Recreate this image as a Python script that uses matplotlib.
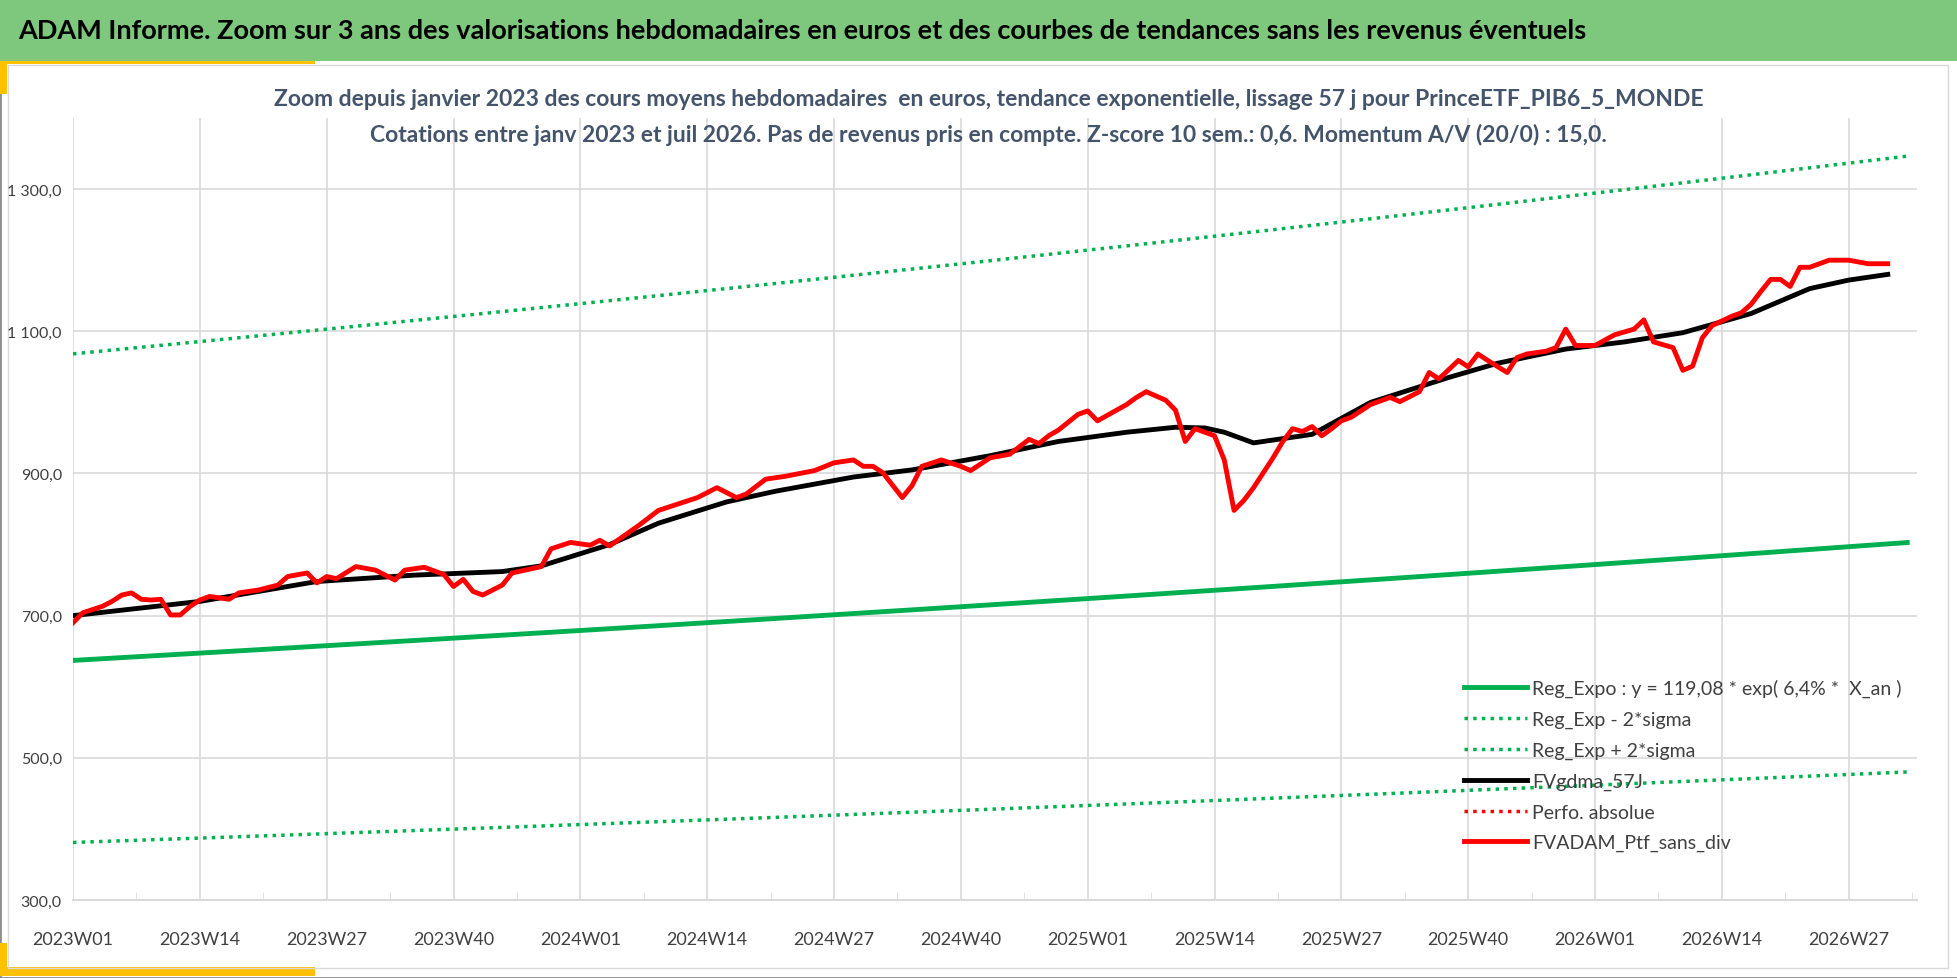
import numpy as np
import matplotlib.pyplot as plt
from matplotlib.patches import Rectangle
from matplotlib.ticker import FuncFormatter, MultipleLocator

plt.rcParams['font.family'] = ['Lato', 'DejaVu Sans']


def generar_zoom_valorisations():
    """Dibuja el zoom de 3 años con las curvas de tendencia de la cartera"""
    print("Generando gráfica de valorizaciones semanales...")

    # Valores semanales leídos (índice de semana desde 2023W01 : valor en euros)
    semanas_ptf = [0, 1, 3, 4, 5, 6, 7, 8, 9, 10, 11, 12, 13, 14, 15, 16, 17, 18, 19, 21, 22, 24, 25, 26, 27,
                   29, 31, 33, 34, 36, 38, 39, 40, 41, 42, 44, 45, 48, 49, 51, 53, 54, 55, 58, 60, 64, 66, 67,
                   68, 69, 71, 73, 76, 78, 80, 81, 82, 83, 85, 86, 87, 89, 91, 92, 94, 96, 98, 99, 100, 101,
                   103, 104, 105, 108, 109, 110, 112, 113, 114, 115, 117, 118, 119, 120, 121, 122, 123, 124,
                   125, 126, 127, 128, 129, 130, 131, 133, 135, 136, 138, 139, 140, 142, 143, 144, 145, 147,
                   148, 149, 151, 152, 153, 154, 156, 158, 160, 161, 162, 164, 165, 166, 167, 168, 170, 171,
                   172, 173, 174, 175, 176, 177, 178, 180, 182, 184, 186]
    valores_ptf = [690, 704, 713, 720, 729, 732, 723, 722, 723, 701, 701, 713, 722, 727, 725, 723, 732, 734, 736,
                   743, 755, 760, 746, 755, 752, 769, 764, 750, 764, 768, 758, 741, 751, 734, 729, 743, 760, 769,
                   794, 803, 799, 806, 798, 827, 848, 866, 880, 873, 866, 871, 892, 896, 904, 915, 919, 910, 910,
                   901, 866, 883, 910, 919, 910, 904, 922, 927, 948, 942, 953, 961, 983, 988, 974, 997, 1007,
                   1015, 1003, 989, 945, 963, 953, 919, 848, 862, 880, 901, 922, 945, 963, 959, 966, 953, 963,
                   974, 979, 997, 1007, 1001, 1015, 1042, 1033, 1059, 1050, 1068, 1059, 1042, 1063, 1068, 1072,
                   1077, 1103, 1080, 1080, 1095, 1103, 1116, 1085, 1077, 1045, 1051, 1091, 1108, 1121, 1126,
                   1138, 1156, 1173, 1173, 1163, 1190, 1190, 1200, 1200, 1195, 1195]

    semanas_mm = [0, 13, 25, 35, 44, 48, 55, 60, 67, 72, 80, 86, 94, 101, 108, 113, 116, 118, 121, 127, 133,
                  141, 146, 153, 159, 165, 172, 178, 182, 186]
    valores_mm = [700, 720, 748, 757, 762, 770, 800, 830, 860, 875, 895, 905, 925, 945, 958, 965, 964, 958,
                  943, 955, 1000, 1035, 1055, 1075, 1085, 1098, 1125, 1160, 1172, 1180]

    # Regresión exponencial y bandas de +/- 2 sigma
    semanas = np.arange(0, 189)
    reg_expo = 637 * np.exp(0.064 * semanas / 52)
    banda_sup = reg_expo * 1.677
    banda_inf = reg_expo * 0.598

    etiquetas = ['2023W01', '2023W14', '2023W27', '2023W40', '2024W01', '2024W14', '2024W27', '2024W40',
                 '2025W01', '2025W14', '2025W27', '2025W40', '2026W01', '2026W14', '2026W27']

    fig = plt.figure(figsize=(19.58, 9.79), dpi=100)

    # Marco, banda verde del título y detalles amarillos (detrás de los ejes)
    fig.patches.append(Rectangle((0, 0), 1, 1, transform=fig.transFigure, facecolor='white',
                                 edgecolor='#8C8C8C', lw=2, zorder=-3))
    fig.patches.append(Rectangle((0, 1 - 62 / 979), 1, 62 / 979, transform=fig.transFigure,
                                 facecolor='#7DC87D', edgecolor='none', zorder=-2))
    fig.patches.append(Rectangle((0, 1 - 65 / 979), 315 / 1958, 3 / 979, transform=fig.transFigure,
                                 facecolor='#FFC000', edgecolor='none', zorder=-2))
    fig.patches.append(Rectangle((0, 1 - 95 / 979), 7 / 1958, 33 / 979, transform=fig.transFigure,
                                 facecolor='#FFC000', edgecolor='none', zorder=-2))
    fig.patches.append(Rectangle((0, 2 / 979), 315 / 1958, 9 / 979, transform=fig.transFigure,
                                 facecolor='#FFC000', edgecolor='none', zorder=-2))
    fig.patches.append(Rectangle((0, 2 / 979), 7 / 1958, 33 / 979, transform=fig.transFigure,
                                 facecolor='#FFC000', edgecolor='none', zorder=-2))
    fig.patches.append(Rectangle((8 / 1958, 10 / 979), 1940 / 1958, 903 / 979, transform=fig.transFigure,
                                 facecolor='none', edgecolor='#D9D9D9', lw=1, zorder=-1))

    fig.text(18 / 1958, 1 - 31 / 979, "ADAM Informe. Zoom sur 3 ans des valorisations hebdomadaires en euros "
             "et des courbes de tendances sans les revenus éventuels", fontsize=19.5, fontweight='bold',
             va='center', ha='left', color='black')
    fig.text(0.505, 1 - 100 / 979, "Zoom depuis janvier 2023 des cours moyens hebdomadaires  en euros, tendance "
             "exponentielle, lissage 57 j pour PrinceETF_PIB6_5_MONDE", fontsize=16.5, fontweight='bold',
             ha='center', va='center', color='#44546A')
    fig.text(0.505, 1 - 135 / 979, "Cotations entre janv 2023 et juil 2026. Pas de revenus pris en compte. "
             "Z-score 10 sem.: 0,6. Momentum A/V (20/0) : 15,0.", fontsize=16.5, fontweight='bold',
             ha='center', va='center', color='#44546A')

    ax = fig.add_axes([73 / 1958, 78 / 979, 1844 / 1958, 782 / 979])
    ax.patch.set_alpha(0)
    ax.plot(semanas, reg_expo, color='#00B050', lw=3.5, label='Reg_Expo : y = 119,08 * exp( 6,4% *  X_an )')
    ax.plot(semanas, banda_inf, color='#00B050', lw=2.5, ls=(0, (1, 1.5)), label='Reg_Exp - 2*sigma')
    ax.plot(semanas, banda_sup, color='#00B050', lw=2.5, ls=(0, (1, 1.5)), label='Reg_Exp + 2*sigma')
    ax.plot(semanas_mm, valores_mm, color='black', lw=3.5, label='FVgdma_57J')
    ax.plot([], [], color='#FF0000', lw=2.5, ls=(0, (1, 1.5)), label='Perfo. absolue')
    ax.plot(semanas_ptf, valores_ptf, color='#FF0000', lw=3.5, label='FVADAM_Ptf_sans_div')

    ax.set_xlim(0, 189)
    ax.set_ylim(300, 1400)
    ax.set_xticks(np.arange(0, 183, 13))
    ax.set_xticklabels(etiquetas)
    ax.xaxis.set_minor_locator(MultipleLocator(6.5))
    ax.set_yticks(np.arange(300, 1301, 200))
    ax.yaxis.set_major_formatter(FuncFormatter(lambda v, p: f"{v:,.1f}".replace(',', ' ').replace('.', ',')))
    ax.grid(True, color='#D9D9D9', lw=1.2)
    ax.set_axisbelow(True)
    for lado in ['top', 'right', 'left']:
        ax.spines[lado].set_visible(False)
    ax.spines['bottom'].set_color('#D9D9D9')
    ax.spines['bottom'].set_linewidth(1.5)
    ax.tick_params(axis='x', which='major', length=0, pad=22, labelsize=13, labelcolor='#404040')
    ax.tick_params(axis='x', which='minor', length=6, color='#D9D9D9', direction='in')
    ax.tick_params(axis='y', length=0, pad=8, labelsize=11.5, labelcolor='#404040')

    ley = ax.legend(loc='upper left', bbox_to_anchor=(0.745, 0.305), frameon=False, fontsize=14,
                    handlelength=3.2, handletextpad=0.3, labelspacing=0.7)
    for t in ley.get_texts():
        t.set_color('#404040')

    plt.savefig('out.png', dpi=100)
    plt.close()
    print("Gráfica guardada en out.png")


if __name__ == "__main__":
    generar_zoom_valorisations()
